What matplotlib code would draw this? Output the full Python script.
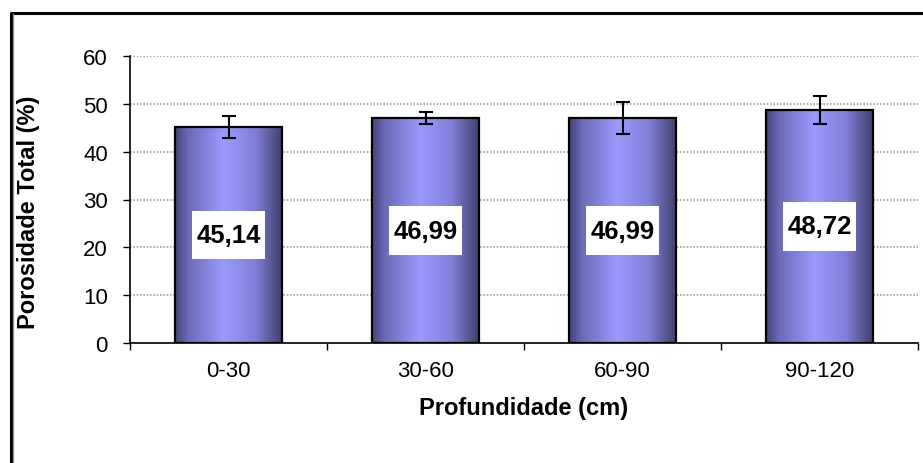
import numpy as np
import matplotlib
matplotlib.use("Agg")
import matplotlib.pyplot as plt
from matplotlib.colors import LinearSegmentedColormap
from matplotlib.lines import Line2D
from matplotlib.patches import Rectangle

categories = ["0-30", "30-60", "60-90", "90-120"]
values = [45.14, 46.99, 46.99, 48.72]
errors = [2.3, 1.2, 3.3, 2.9]
labels = ["45,14", "46,99", "46,99", "48,72"]
yticks = [0, 10, 20, 30, 40, 50, 60]

plt.rcParams['font.family'] = ['Liberation Sans', 'DejaVu Sans']

W, H = 923, 464
fig = plt.figure(figsize=(W / 100, H / 100), dpi=100)
ax = fig.add_axes([130 / W, 1 - 344 / H, (918 - 130) / W, (344 - 57) / H])

x = np.arange(len(categories))
width = 0.54
bars = ax.bar(x, values, width=width, color='none', edgecolor='black', linewidth=1.6, zorder=3)

cmap = LinearSegmentedColormap.from_list(
    'g', [(0.0, '#44447a'), (0.12, '#6a6ab8'), (0.45, '#9a9aff'), (0.75, '#8080d8'), (1.0, '#40406c')])
grad = np.linspace(0, 1, 256).reshape(1, -1)
for b in bars:
    bx, by = b.get_x(), b.get_y()
    bw, bh = b.get_width(), b.get_height()
    im = ax.imshow(grad, cmap=cmap, aspect='auto', extent=[bx, bx + bw, by, by + bh],
                   zorder=2, interpolation='bicubic')
    im.set_clip_path(b)

ax.errorbar(x, values, yerr=errors, fmt='none', ecolor='black', elinewidth=1.5,
            capsize=5, capthick=1.5, zorder=4)

# label boxes (size in data units derived from axes scale)
box_w, box_h = 0.37, 10.2
for xi, v, lab in zip(x, values, labels):
    ax.add_patch(Rectangle((xi - box_w / 2, v / 2 - box_h / 2), box_w, box_h,
                           facecolor='white', edgecolor='none', zorder=5))
    ax.text(xi, v / 2, lab, ha='center', va='center', fontsize=18.5, fontweight='bold',
            zorder=6)

ax.set_xlim(-0.5, len(categories) - 0.5)
ax.set_ylim(0, 60)
ax.set_yticks(yticks)
ax.set_yticklabels([str(t) for t in yticks], fontsize=16)
ax.set_xticks(x)
ax.set_xticklabels(categories, fontsize=16)
ax.set_xticks(np.arange(-0.5, len(categories)), minor=True)
ax.tick_params(axis='x', which='major', length=0, pad=12)
ax.tick_params(axis='x', which='minor', length=5, width=1, direction='out')
ax.tick_params(axis='y', length=5, width=1, direction='out', pad=11)

ax.yaxis.grid(True, color='#a0a0a0', linestyle=(0, (1, 1)), linewidth=1.2, zorder=0)
ax.set_axisbelow(True)
for s in ['top', 'right']:
    ax.spines[s].set_visible(False)
for s in ['left', 'bottom']:
    ax.spines[s].set_linewidth(1.2)

fig.text(29 / W, 1 - 212 / H, 'Porosidade Total (%)', rotation=90, ha='center', va='center',
         fontsize=17, fontweight='bold')
fig.text(524 / W, 1 - 409 / H, 'Profundidade (cm)', ha='center', va='center',
         fontsize=17, fontweight='bold')

# outer chart frame (partly cropped)
fig.add_artist(Line2D([10.5 / W, 10.5 / W, 1.0], [0, 1 - 13.5 / H, 1 - 13.5 / H],
                      transform=fig.transFigure, color='black', linewidth=2.2))
fig.add_artist(Line2D([12.5 / W, 12.5 / W], [0, 1 - 15 / H],
                      transform=fig.transFigure, color='#909090', linewidth=1))

fig.savefig('out.png', dpi=100)
